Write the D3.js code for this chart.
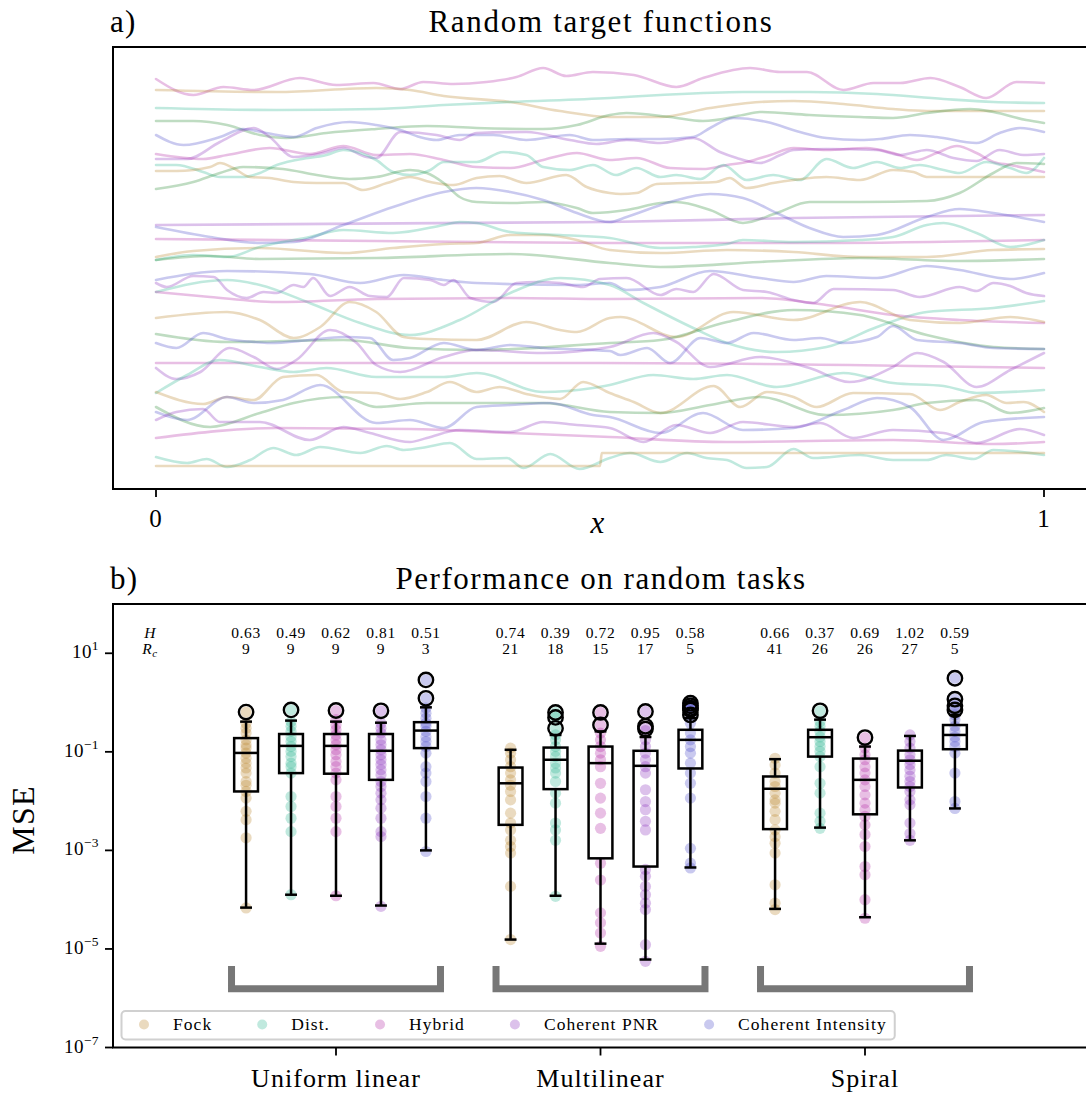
<!DOCTYPE html>
<html>
<head>
<meta charset="utf-8">
<script src="https://cdn.jsdelivr.net/npm/d3@7"></script>
<style>
  body { margin: 0; background: #fff; }
  svg text { font-family: 'Liberation Serif', 'DejaVu Serif', serif; fill: #000; letter-spacing: 0.04em; }
</style>
</head>
<body>
<svg id="fig" width="1086" height="1093"></svg>
<script>
// ---------------- Panel a: random target functions ----------------
// Each curve is a list of [x, f(x)] samples; f is in stacked offset units.
const targetCurves = [
  [[0,41.0],[.042,39.4],[.076,40.2],[.110,39.9],[.162,41.1],[.203,40.4],[.245,40.6],[.275,40.0],[.301,40.7],[.335,40.5],[.372,40.7],[.406,41.2],[.436,42.1],[.462,41.3],[.492,41.7],[.538,41.4],[.586,40.2],[.616,41.1],[.669,42.1],[.703,41.7],[.733,41.7],[.774,39.9],[.808,40.6],[.838,40.6],[.872,41.1],[.905,40.2],[.935,39.1],[.969,40.7],[1,40.6]],
  [[0,39.9],[.136,39.7],[.248,40.1],[.286,39.9],[.324,39.3],[.399,38.7],[.455,37.8],[.511,37.2],[.568,37.2],[.624,38.1],[.680,38.7],[.718,38.8],[.774,38.5],[.830,38.0],[.868,37.8],[1,37.8]],
  [[0,38.1],[.136,37.9],[.248,38.0],[.324,38.4],[.399,38.7],[.511,39.1],[.568,39.4],[.661,39.7],[.736,39.7],[.812,39.5],[.887,39.0],[.943,38.7],[1,38.6]],
  [[0,36.8],[.042,36.8],[.080,36.4],[.117,35.4],[.147,35.1],[.192,35.6],[.248,36.0],[.305,36.3],[.361,36.1],[.436,36.0],[.474,36.4],[.511,37.4],[.530,37.6],[.579,37.2],[.616,36.8],[.661,37.4],[.680,37.7],[.736,37.4],[.793,37.2],[.830,37.1],[.868,37.6],[.917,38.0],[.943,37.7],[.980,36.9],[1,36.6]],
  [[0,35.4],[.031,34.4],[.072,35.2],[.098,36.0],[.124,35.6],[.155,35.2],[.181,36.1],[.218,36.7],[.248,36.4],[.275,35.9],[.297,35.2],[.316,34.9],[.342,35.4],[.380,35.4],[.417,34.9],[.466,35.4],[.492,34.9],[.530,35.0],[.568,35.0],[.605,35.2],[.624,36.1],[.650,37.1],[.688,36.7],[.725,35.7],[.755,35.1],[.793,34.9],[.815,35.0],[.849,35.4],[.879,35.2],[.924,34.6],[.950,35.6],[.973,36.1],[1,35.7]],
  [[0,33.0],[.035,33.0],[.072,34.7],[.110,36.1],[.128,35.2],[.155,33.2],[.188,33.6],[.211,34.1],[.237,33.2],[.248,33.1],[.275,35.7],[.316,35.4],[.342,34.9],[.361,35.6],[.417,35.7],[.466,34.9],[.496,34.5],[.530,34.9],[.568,34.6],[.605,35.1],[.635,33.7],[.654,33.1],[.680,32.6],[.703,33.4],[.718,33.9],[.755,34.0],[.812,33.9],[.838,33.4],[.868,33.9],[.898,33.1],[.924,32.8],[.950,33.9],[.977,33.4],[1,33.5]],
  [[0,33.5],[.053,33.0],[.080,33.4],[.128,34.1],[.173,33.5],[.211,34.3],[.248,33.4],[.286,33.5],[.324,32.9],[.361,32.2],[.399,32.1],[.436,32.9],[.474,33.6],[.511,32.9],[.541,33.1],[.579,32.1],[.616,32.0],[.643,32.4],[.665,32.7],[.692,33.4],[.718,34.1],[.755,33.9],[.800,34.1],[.830,33.6],[.857,32.9],[.879,33.6],[.902,34.3],[.924,33.6],[.943,32.7],[.962,32.4],[1,31.7]],
  [[0,32.4],[.023,32.4],[.053,31.7],[.072,31.2],[.098,31.2],[.117,31.6],[.136,32.4],[.158,32.9],[.192,33.4],[.211,33.9],[.230,33.6],[.248,32.9],[.267,31.7],[.286,31.4],[.309,31.9],[.324,32.7],[.361,32.7],[.391,33.7],[.417,33.4],[.436,32.2],[.466,31.9],[.492,32.4],[.518,31.4],[.541,32.1],[.568,31.2],[.586,31.4],[.613,31.0],[.639,32.4],[.665,30.9],[.695,31.4],[.725,30.9],[.755,33.0],[.785,32.1],[.812,32.7],[.838,32.1],[.860,32.4],[.887,31.9],[.905,31.6],[.935,32.7],[.962,32.1],[.980,31.6],[1,33.1]],
  [[0,31.8],[.023,31.8],[.061,32.2],[.072,32.6],[.087,32.1],[.106,31.2],[.128,31.1],[.155,30.7],[.181,30.6],[.211,30.6],[.233,29.9],[.260,30.6],[.286,31.2],[.309,30.7],[.335,30.4],[.361,31.1],[.387,31.3],[.417,30.6],[.462,31.4],[.485,30.2],[.511,29.6],[.523,29.5],[.541,29.6],[.564,30.5],[.598,30.6],[.631,30.7],[.646,31.1],[.665,30.1],[.695,30.6],[.718,30.9],[.755,31.2],[.793,30.9],[.830,31.9],[.853,31.7],[.868,31.2],[.924,31.2],[1,31.2]],
  [[0,30.0],[.042,30.7],[.072,31.6],[.098,32.2],[.143,32.0],[.181,31.4],[.218,31.0],[.248,31.2],[.286,31.9],[.305,31.6],[.324,30.6],[.342,29.2],[.361,28.7],[.399,28.6],[.436,28.7],[.474,28.1],[.492,27.6],[.530,27.9],[.568,28.6],[.586,28.7],[.624,27.9],[.661,26.6],[.699,27.6],[.736,28.7],[.793,28.7],[.868,28.8],[.905,29.6],[.943,31.6],[.969,32.6],[1,32.5]],
  [[0,26.4],[.511,26.7],[.718,27.1],[1,27.4]],
  [[0,26.2],[.061,25.2],[.117,24.6],[.155,24.7],[.211,26.4],[.267,28.2],[.324,29.7],[.361,30.1],[.399,29.7],[.436,28.9],[.474,27.6],[.511,26.7],[.530,27.2],[.579,28.7],[.624,29.5],[.661,29.1],[.699,27.6],[.736,26.1],[.774,25.2],[.812,25.4],[.868,27.2],[.905,28.0],[.943,27.6],[1,26.7]],
  [[0,25.0],[.248,24.8],[.511,24.6],[.75,24.6],[1,24.9]],
  [[0,23.2],[.042,23.8],[.117,24.1],[.211,23.6],[.267,24.1],[.324,24.5],[.361,24.6],[.399,25.4],[.436,25.4],[.474,24.9],[.511,23.9],[.568,23.6],[.643,23.9],[.718,23.7],[.793,23.2],[.868,23.2],[.943,23.9],[1,24.0]],
  [[0,22.9],[.042,23.4],[.080,23.2],[.117,24.2],[.173,25.2],[.211,25.9],[.267,25.6],[.324,26.4],[.342,26.7],[.361,26.6],[.399,25.7],[.455,25.4],[.511,25.1],[.568,24.1],[.605,24.2],[.643,24.5],[.661,24.9],[.718,24.7],[.793,24.9],[.830,25.2],[.868,26.4],[.887,26.6],[.924,25.6],[.962,24.2],[1,24.9]],
  [[0,22.9],[.061,23.3],[.117,23.0],[.248,23.1],[.399,23.5],[.511,22.6],[.568,22.2],[.680,22.7],[.793,23.1],[.905,22.8],[1,23.0]],
  [[0,20.9],[.080,21.8],[.173,21.5],[.230,20.6],[.279,21.4],[.324,20.9],[.361,20.6],[.474,20.4],[.511,20.6],[.530,19.9],[.568,20.2],[.624,21.8],[.680,21.1],[.718,20.7],[.755,21.3],[.812,21.1],[.868,22.3],[.905,21.9],[.962,21.0],[1,21.6]],
  [[0,20.6],[.012,20.2],[.042,21.3],[.065,21.2],[.080,19.9],[.102,19.1],[.121,19.7],[.136,19.6],[.155,20.4],[.166,20.2],[.177,21.1],[.196,19.3],[.218,20.2],[.241,19.3],[.260,19.2],[.279,21.1],[.309,20.9],[.324,20.4],[.335,20.9],[.354,19.1],[.380,18.7],[.406,20.6],[.429,20.7],[.455,20.6],[.481,20.2],[.500,21.0],[.530,21.1],[.568,19.4],[.586,20.0],[.605,19.7],[.628,21.5],[.661,19.9],[.688,19.7],[.718,18.9],[.740,18.6],[.763,20.0],[.830,19.9],[.860,19.2],[.905,20.2],[.924,19.8],[.943,20.6],[.962,20.3],[.980,19.6],[1,19.3]],
  [[0,19.7],[.080,20.9],[.117,20.4],[.173,18.6],[.230,16.6],[.286,15.4],[.342,16.9],[.399,19.6],[.455,21.1],[.511,20.4],[.549,18.6],[.605,16.1],[.643,14.6],[.699,13.7],[.755,14.2],[.812,16.2],[.868,17.7],[.943,18.1],[1,18.8]],
  [[0,19.7],[.061,19.2],[.136,18.7],[.248,19.0],[.399,19.1],[.511,19.0],[.680,19.1],[.755,18.4],[.830,17.4],[.905,16.9],[1,16.6]],
  [[0,17.1],[.080,17.7],[.117,16.9],[.155,15.1],[.185,16.2],[.218,18.7],[.248,17.7],[.279,15.2],[.305,15.0],[.361,14.9],[.417,16.7],[.455,15.9],[.474,15.7],[.511,17.1],[.523,17.2],[.586,15.2],[.650,17.7],[.718,16.9],[.793,18.7],[.849,16.9],[.905,16.6],[.962,17.2],[1,16.7]],
  [[0,15.5],[.080,14.7],[.211,14.9],[.286,14.1],[.361,13.9],[.511,14.6],[.568,14.9],[.643,16.7],[.718,17.9],[.793,17.4],[.868,15.4],[.943,14.2],[1,14.0]],
  [[0,14.6],[.023,14.1],[.053,15.6],[.080,15.0],[.110,14.7],[.128,14.6],[.173,14.9],[.211,15.2],[.241,15.1],[.267,12.9],[.286,13.1],[.324,14.6],[.361,13.9],[.399,14.4],[.436,14.1],[.511,13.8],[.523,13.4],[.553,14.1],[.579,12.6],[.613,15.1],[.643,14.6],[.673,15.6],[.718,14.9],[.748,15.1],[.774,14.6],[.812,15.2],[.830,16.3],[.857,14.9],[.905,14.6],[.943,14.1],[1,14.0]],
  [[0,12.6],[.5,12.6],[1,12.1]],
  [[0,12.1],[.023,11.0],[.050,11.7],[.083,14.1],[.110,13.2],[.136,12.0],[.158,12.9],[.196,15.9],[.226,14.6],[.248,12.4],[.275,11.7],[.324,13.2],[.361,13.9],[.436,13.6],[.511,14.2],[.560,15.6],[.586,14.7],[.624,12.2],[.680,13.2],[.736,12.1],[.781,10.7],[.830,12.2],[.857,13.6],[.887,12.7],[.924,10.2],[.962,11.9],[1,13.6]],
  [[0,9.6],[.035,11.4],[.072,12.9],[.117,12.2],[.155,11.7],[.192,12.1],[.248,11.2],[.324,11.2],[.361,11.6],[.436,9.7],[.492,10.1],[.511,10.4],[.560,11.4],[.605,11.0],[.643,11.4],[.699,10.2],[.774,11.6],[.830,10.6],[.887,10.3],[.924,9.6],[1,9.9]],
  [[0,9.7],[.053,8.5],[.080,9.2],[.110,8.9],[.143,11.2],[.181,11.4],[.211,9.7],[.248,9.6],[.275,9.0],[.305,9.7],[.331,10.7],[.361,9.7],[.387,10.2],[.417,9.5],[.455,9.0],[.481,10.7],[.511,9.6],[.538,8.7],[.568,7.6],[.628,10.3],[.658,8.2],[.688,9.7],[.718,9.2],[.744,8.2],[.785,9.6],[.849,9.5],[.883,7.9],[.905,8.7],[.935,9.4],[.958,8.6],[.977,8.7],[1,7.7]],
  [[0,8.2],[.061,6.2],[.117,7.6],[.155,8.6],[.211,9.2],[.248,8.2],[.305,8.6],[.361,8.6],[.436,8.6],[.511,7.7],[.568,7.6],[.624,8.4],[.680,9.2],[.755,7.4],[.830,7.9],[.868,8.6],[.924,8.9],[.962,7.6],[1,8.1]],
  [[0,7.7],[.035,6.9],[.080,9.2],[.110,8.6],[.143,8.9],[.185,10.4],[.248,6.6],[.286,6.9],[.324,6.1],[.361,8.2],[.399,8.4],[.444,8.6],[.492,7.4],[.511,7.2],[.568,5.6],[.616,7.6],[.661,5.9],[.718,6.1],[.774,7.9],[.812,9.1],[.849,8.2],[.887,4.9],[.932,6.7],[1,7.2]],
  [[0,6.9],[.023,7.7],[.053,8.0],[.072,6.7],[.117,6.7],[.173,4.9],[.211,6.2],[.241,5.6],[.286,4.7],[.305,5.1],[.342,5.9],[.399,5.7],[.436,6.7],[.474,6.4],[.511,6.1],[.549,4.7],[.586,6.4],[.624,5.6],[.661,6.7],[.718,6.2],[.748,6.6],[.785,5.1],[.830,5.9],[.887,5.6],[.924,4.6],[.973,6.0],[1,5.4]],
  [[0,5.1],[.136,6.1],[.286,6.0],[.399,5.6],[.511,5.2],[.643,4.7],[.830,4.9],[.943,4.5],[1,4.7]],
  [[0,3.2],[.035,2.6],[.057,3.0],[.080,2.2],[.106,2.9],[.132,4.1],[.158,3.4],[.185,4.2],[.230,3.6],[.260,4.3],[.279,3.9],[.305,4.2],[.331,4.6],[.361,3.0],[.395,3.1],[.414,2.1],[.444,3.5],[.477,2.0],[.511,3.1],[.534,3.6],[.568,2.7],[.598,3.6],[.620,3.1],[.643,2.9],[.665,2.1],[.688,2.2],[.718,4.0],[.740,3.1],[.793,3.4],[.830,2.9],[.868,2.9],[.890,3.4],[.921,3.0],[.943,3.9],[1,3.4]],
  [[0,2.3],[.5,2.3],[.502,3.6],[1,3.6]]
];
const curveColorKeys = ["hyb","fock","dist","grn","ci","pnr","hyb","dist","fock","grn","pnr","ci","hyb","fock","dist","grn","ci","pnr","dist","hyb","fock","grn","ci","hyb","pnr","dist","fock","grn","ci","pnr","hyb","dist","fock"];
const palette = { fock: "#b8862a", dist: "#2db592", hyb: "#b42aa5", pnr: "#8c32bd", ci: "#4c4cc9", grn: "#2a8a35" };
const xTicksA = [0, 1];

// ---------------- Panel b: performance on random tasks ----------------
const taskNames = ["Uniform linear", "Multilinear", "Spiral"];
const methodNames = ["Fock", "Dist.", "Hybrid", "Coherent PNR", "Coherent Intensity"];
const methodKeys = ["fock", "dist", "hyb", "pnr", "ci"];
const entropyH = [[0.63, 0.49, 0.62, 0.81, 0.51], [0.74, 0.39, 0.72, 0.95, 0.58], [0.66, 0.37, 0.69, 1.02, 0.59]];
const rankRc = [[9, 9, 9, 9, 3], [21, 18, 15, 17, 5], [41, 26, 26, 27, 5]];
// [lower whisker, Q1, median, Q3, upper whisker]
const boxStats = [
  [[6.9e-5, 0.0157, 0.095, 0.19, 0.41], [1.26e-4, 0.037, 0.132, 0.23, 0.43], [1.2e-4, 0.036, 0.132, 0.23, 0.41], [7.6e-5, 0.027, 0.105, 0.23, 0.39], [1.0e-3, 0.119, 0.27, 0.40, 0.80]],
  [[1.55e-5, 0.0033, 0.023, 0.048, 0.11], [1.2e-4, 0.0175, 0.069, 0.122, 0.22], [1.28e-5, 6.9e-4, 0.059, 0.128, 0.26], [6.1e-6, 4.7e-4, 0.052, 0.105, 0.20], [4.5e-4, 0.046, 0.175, 0.28, 0.48]],
  [[6.5e-5, 0.0027, 0.0178, 0.0316, 0.071], [0.0029, 0.080, 0.198, 0.28, 0.45], [4.4e-5, 0.0054, 0.027, 0.073, 0.128], [0.0016, 0.0189, 0.066, 0.106, 0.21], [0.0071, 0.113, 0.22, 0.35, 0.56]]
];
const outliers = [
  [[0.64], [0.71], [0.69], [0.68], [2.88, 1.22]],
  [[], [0.63, 0.50, 0.30], [0.63, 0.35], [0.66, 0.33, 0.29], [0.97, 0.86, 0.77, 0.71, 0.56]],
  [[], [0.68], [0.195], [], [3.11, 1.17, 0.86, 0.71]]
];
const msePoints = [
  [
    [0.64,0.38,0.30,0.24,0.175,0.139,0.119,0.094,0.074,0.059,0.047,0.037,0.025,0.021,0.0157,0.0115,0.0062,0.0042,0.0018,6.8e-5],
    [0.71,0.41,0.33,0.26,0.20,0.162,0.128,0.102,0.080,0.059,0.050,0.037,0.0124,0.0078,0.0045,0.0024,1.26e-4],
    [0.69,0.45,0.35,0.28,0.22,0.175,0.139,0.11,0.087,0.064,0.050,0.037,0.027,0.0124,0.0078,0.0045,0.0024,1.2e-4],
    [0.68,0.38,0.30,0.24,0.175,0.139,0.11,0.087,0.069,0.055,0.043,0.034,0.025,0.0198,0.0145,0.0106,0.0072,0.0045,0.0024,0.0019,7.3e-5],
    [2.88,1.22,0.77,0.61,0.48,0.38,0.33,0.26,0.20,0.162,0.128,0.094,0.050,0.037,0.025,0.0124,0.0045,9.5e-4]
  ],
  [
    [0.119,0.094,0.069,0.050,0.037,0.027,0.021,0.0157,0.0106,0.0057,0.0036,0.0026,0.0016,0.0012,8.8e-4,1.86e-4,1.55e-5],
    [0.63,0.50,0.30,0.22,0.175,0.128,0.102,0.080,0.059,0.047,0.037,0.025,0.0145,0.0091,0.0036,0.0026,0.0016,1.17e-4],
    [0.63,0.35,0.24,0.175,0.128,0.094,0.069,0.050,0.023,0.0115,0.0057,0.0028,5.5e-4,2.5e-4,5.4e-5,3.4e-5,2.1e-5,1.13e-5],
    [0.66,0.33,0.27,0.175,0.128,0.094,0.069,0.050,0.037,0.017,0.0098,0.0067,0.0039,0.0026,4.1e-4,3.0e-4,1.86e-4,1.26e-4,8.5e-5,6.3e-5,1.22e-5,5.6e-6],
    [0.97,0.86,0.77,0.71,0.56,0.38,0.24,0.175,0.128,0.094,0.059,0.037,0.023,0.0115,0.0011,5.5e-4,4.4e-4]
  ],
  [
    [0.074,0.054,0.037,0.025,0.0198,0.0145,0.0106,0.0091,0.0062,0.0042,0.0026,0.0019,0.0014,8.8e-4,2.0e-4,8.5e-5,6.3e-5],
    [0.68,0.41,0.33,0.26,0.20,0.162,0.128,0.102,0.080,0.050,0.023,0.0145,0.0057,0.0039,0.0028],
    [0.195,0.119,0.087,0.069,0.050,0.037,0.027,0.0198,0.0134,0.0091,0.0067,0.0049,0.0033,0.0021,0.0012,4.7e-4,3.2e-4,1.0e-4,4.2e-5],
    [0.22,0.162,0.119,0.087,0.069,0.055,0.043,0.032,0.025,0.0198,0.0157,0.0106,0.0084,0.0036,0.0022,0.0016],
    [3.11,1.17,0.86,0.71,0.56,0.45,0.33,0.26,0.20,0.162,0.128,0.094,0.037,0.0098,0.0071]
  ]
];
const yTickExponents = [1, -1, -3, -5, -7];

// ---------------- drawing ----------------
const svg = d3.select("#fig");
const black = "#000";

function label(parent, x, y, str, size, anchor) {
  return parent.append("text").attr("x", x).attr("y", y)
    .attr("text-anchor", anchor || "middle").style("font-size", size + "px").text(str);
}

// Panel a
const xA = d3.scaleLinear().domain([0, 1]).range([156, 1044]);
const yA = d3.scaleLinear().domain([0, 44.2]).range([489, 47]);
const gA = svg.append("g");
const curveLine = d3.line().x(d => xA(d[0])).y(d => yA(d[1])).curve(d3.curveMonotoneX);

gA.selectAll("path.target").data(targetCurves).join("path")
  .attr("class", "target")
  .attr("d", d => curveLine(d.slice().sort((a, b) => a[0] - b[0])))
  .attr("fill", "none")
  .attr("stroke", (d, i) => palette[curveColorKeys[i]])
  .attr("stroke-opacity", 0.3)
  .attr("stroke-width", 2.6)
  .attr("stroke-linecap", "round");

gA.append("rect").attr("x", 113).attr("y", 47).attr("width", 990).attr("height", 442)
  .attr("fill", "none").attr("stroke", black).attr("stroke-width", 2);

xTicksA.forEach(t => {
  gA.append("line").attr("x1", xA(t)).attr("x2", xA(t)).attr("y1", 489).attr("y2", 497)
    .attr("stroke", black).attr("stroke-width", 1.8);
  label(gA, xA(t), 527, String(t), 25);
});
label(gA, xA(0.5) - 2, 533, "x", 31).style("font-style", "italic");
label(svg, 110, 32, "a)", 31, "start");
label(svg, 601, 32, "Random target functions", 31).style("letter-spacing", "0.055em");

// Panel b
const xB = d3.scaleLinear().domain([0, 2]).range([336, 865]);
const yB = d3.scaleLog().domain([1e-7, 1e2]).range([1047.5, 604]);
const gB = svg.append("g");
const methodOffset = [-0.34, -0.17, 0, 0.17, 0.34];
const boxHalf = 0.045;

// group brackets
const bracketSpan = 0.395, bracketTop = 4.5e-6, bracketBottom = 1.55e-6;
taskNames.forEach((name, g) => {
  const x0 = xB(g - bracketSpan), x1 = xB(g + bracketSpan);
  gB.append("path")
    .attr("d", `M${x0},${yB(bracketTop)}V${yB(bracketBottom)}H${x1}V${yB(bracketTop)}`)
    .attr("fill", "none").attr("stroke", "#777").attr("stroke-width", 7)
    .attr("stroke-linejoin", "miter");
});

taskNames.forEach((name, g) => {
  methodKeys.forEach((key, m) => {
    const cx = xB(g + methodOffset[m]);
    const hw = xB(boxHalf) - xB(0);
    const [lo, q1, med, q3, hi] = boxStats[g][m];
    const col = palette[key];
    // individual runs
    gB.selectAll(null).data(msePoints[g][m]).join("circle")
      .attr("cx", cx).attr("cy", d => yB(d)).attr("r", 5.6)
      .attr("fill", col).attr("fill-opacity", 0.3);
    // box and whiskers
    const ln = (x1, y1, x2, y2) => gB.append("line").attr("x1", x1).attr("y1", y1).attr("x2", x2).attr("y2", y2)
      .attr("stroke", black).attr("stroke-width", 2.5);
    ln(cx, yB(q1), cx, yB(lo));
    ln(cx, yB(q3), cx, yB(hi));
    ln(cx - hw / 2, yB(lo), cx + hw / 2, yB(lo));
    ln(cx - hw / 2, yB(hi), cx + hw / 2, yB(hi));
    gB.append("rect").attr("x", cx - hw).attr("y", yB(q3)).attr("width", 2 * hw)
      .attr("height", yB(q1) - yB(q3)).attr("fill", "none")
      .attr("stroke", black).attr("stroke-width", 2.5);
    ln(cx - hw, yB(med), cx + hw, yB(med));
    gB.selectAll(null).data(outliers[g][m]).join("circle")
      .attr("cx", cx).attr("cy", d => yB(d)).attr("r", 7.2)
      .attr("fill", "none").attr("stroke", black).attr("stroke-width", 2.4);
    // entropy and rank annotations
    label(gB, cx, 638, entropyH[g][m].toFixed(2), 15.5);
    label(gB, cx, 654, String(rankRc[g][m]), 15.5);
  });
});

// row headers for the annotations
label(gB, xB(-0.703), 638, "H", 15.5).style("font-style", "italic");
const rc = gB.append("text").attr("x", xB(-0.703)).attr("y", 654).attr("text-anchor", "middle")
  .style("font-size", "15.5px").style("font-style", "italic");
rc.append("tspan").text("R");
rc.append("tspan").attr("dy", 3).style("font-size", "11px").text("c");

// frame
gB.append("rect").attr("x", 113).attr("y", 604).attr("width", 990).attr("height", 443.5)
  .attr("fill", "none").attr("stroke", black).attr("stroke-width", 2);

// y ticks
yTickExponents.forEach(e => {
  const y = yB(Math.pow(10, e));
  gB.append("line").attr("x1", 105).attr("x2", 113).attr("y1", y).attr("y2", y)
    .attr("stroke", black).attr("stroke-width", 1.8);
  const t = gB.append("text").attr("x", 99).attr("y", y + 5).attr("text-anchor", "end")
    .style("font-size", "19px").style("letter-spacing", "0.02em");
  t.append("tspan").text("10");
  t.append("tspan").attr("dy", -8).style("font-size", "13.5px")
    .text(e < 0 ? "\u2212" + (-e) : String(e));
});
svg.append("text").attr("transform", "translate(34,820) rotate(-90)")
  .attr("text-anchor", "middle").style("font-size", "32px").text("MSE");

// x ticks
taskNames.forEach((name, g) => {
  gB.append("line").attr("x1", xB(g)).attr("x2", xB(g)).attr("y1", 1047.5).attr("y2", 1055.5)
    .attr("stroke", black).attr("stroke-width", 1.8);
  label(gB, xB(g), 1087, name, 26);
});

label(svg, 110, 589, "b)", 31, "start");
label(svg, 601, 589, "Performance on random tasks", 31).style("letter-spacing", "0.05em");

// legend
const legG = svg.append("g");
const legBox = legG.append("rect").attr("y", 1011).attr("height", 28.5).attr("x", 121.5)
  .attr("rx", 4).attr("fill", "#fff").attr("fill-opacity", 0.85)
  .attr("stroke", "#d0d0d0").attr("stroke-width", 2);
let lx = 144;
methodNames.forEach((name, m) => {
  legG.append("circle").attr("cx", lx).attr("cy", 1024.5).attr("r", 5)
    .attr("fill", palette[methodKeys[m]]).attr("fill-opacity", 0.3);
  const t = label(legG, lx + 29, 1030, name, 17.5, "start").style("letter-spacing", "0.06em");
  lx = lx + 29 + t.node().getComputedTextLength() + 50;
});
legBox.attr("width", lx - 50 + 8 - 121.5);
</script>
</body>
</html>
